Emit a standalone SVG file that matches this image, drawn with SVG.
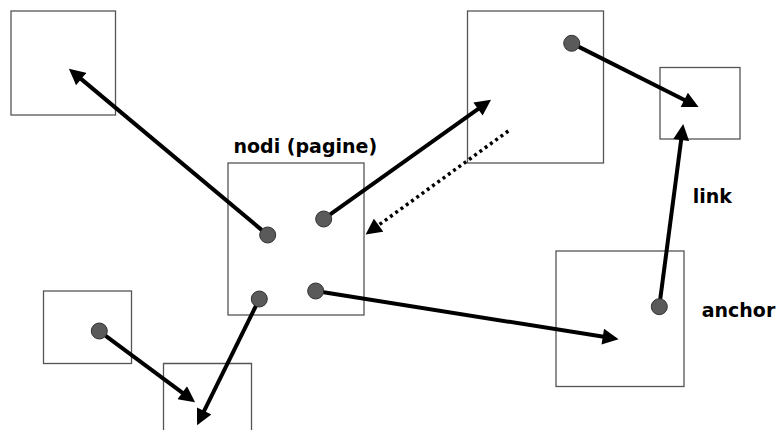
<svg xmlns="http://www.w3.org/2000/svg" width="780" height="430" viewBox="0 0 780 430">
<style>
.box{fill:none;stroke:#555;stroke-width:1.3}
.anc{fill:#5a5a5a;stroke:#333;stroke-width:1}
.cn{stroke:#000;stroke-width:4;fill:none}
.dot{stroke:#000;stroke-width:3.5;fill:none;stroke-dasharray:3 3.5}
.lbl{font-family:"DejaVu Sans",Verdana,sans-serif;font-weight:bold;font-size:19px;fill:#000}
</style>
<defs>
<marker id="ah" viewBox="0 0 10 10" refX="2.6" refY="5" markerWidth="4.25" markerHeight="4" markerUnits="strokeWidth" orient="auto">
<path d="M0,0 L10,5 L0,10 z" fill="#000"/>
</marker>
<marker id="ahd" viewBox="0 0 10 10" refX="2.6" refY="5" markerWidth="4.86" markerHeight="4.57" markerUnits="strokeWidth" orient="auto">
<path d="M0,0 L10,5 L0,10 z" fill="#000"/>
</marker>
</defs>
<rect width="780" height="430" fill="#fff"/>
<g id="node-topleft"><rect class="box" x="11" y="11" width="104.5" height="104"/></g>
<g id="node-topmid"><rect class="box" x="467.5" y="11" width="136" height="152"/><circle class="anc" cx="571.7" cy="43.3" r="8"/></g>
<g id="node-right"><rect class="box" x="660" y="67.5" width="80" height="71.5"/></g>
<g id="node-center"><rect class="box" x="228" y="163" width="136" height="152"/>
<circle class="anc" cx="267.7" cy="235" r="8"/>
<circle class="anc" cx="323.7" cy="219" r="8"/>
<circle class="anc" cx="259.3" cy="299" r="8"/>
<circle class="anc" cx="315.7" cy="291" r="8"/>
</g>
<g id="node-bottomright"><rect class="box" x="556" y="251" width="128" height="135.5"/><circle class="anc" cx="659.3" cy="306.7" r="8"/></g>
<g id="node-bottomleft"><rect class="box" x="43.5" y="291" width="88" height="72.5"/><circle class="anc" cx="99.3" cy="331" r="8"/></g>
<g id="node-bottom"><path class="box" d="M163.5,432 V363.5 H251.5 V432"/></g>
<g id="connectors">
<line class="cn" x1="261.6" y1="229.9" x2="78.0" y2="76.4" marker-end="url(#ah)"/>
<line class="cn" x1="330.2" y1="214.4" x2="481.4" y2="106.6" marker-end="url(#ah)"/>
<line class="dot" x1="508.3" y1="131" x2="375.2" y2="227.6" marker-end="url(#ahd)"/>
<line class="cn" x1="323.6" y1="292.3" x2="606.9" y2="337.3" marker-end="url(#ah)"/>
<line class="cn" x1="255.8" y1="306.2" x2="202.3" y2="414.7" marker-end="url(#ah)"/>
<line class="cn" x1="105.7" y1="335.8" x2="185.6" y2="395.2" marker-end="url(#ah)"/>
<line class="cn" x1="578.9" y1="46.9" x2="688.0" y2="101.7" marker-end="url(#ah)"/>
<line class="cn" x1="660.3" y1="298.8" x2="681.7" y2="135.8" marker-end="url(#ah)"/>
</g>
<text class="lbl" x="233.5" y="153.3">nodi (pagine)</text>
<text class="lbl" x="692.7" y="202.7">link</text>
<text class="lbl" x="701.7" y="317.3">anchor</text>
</svg>
